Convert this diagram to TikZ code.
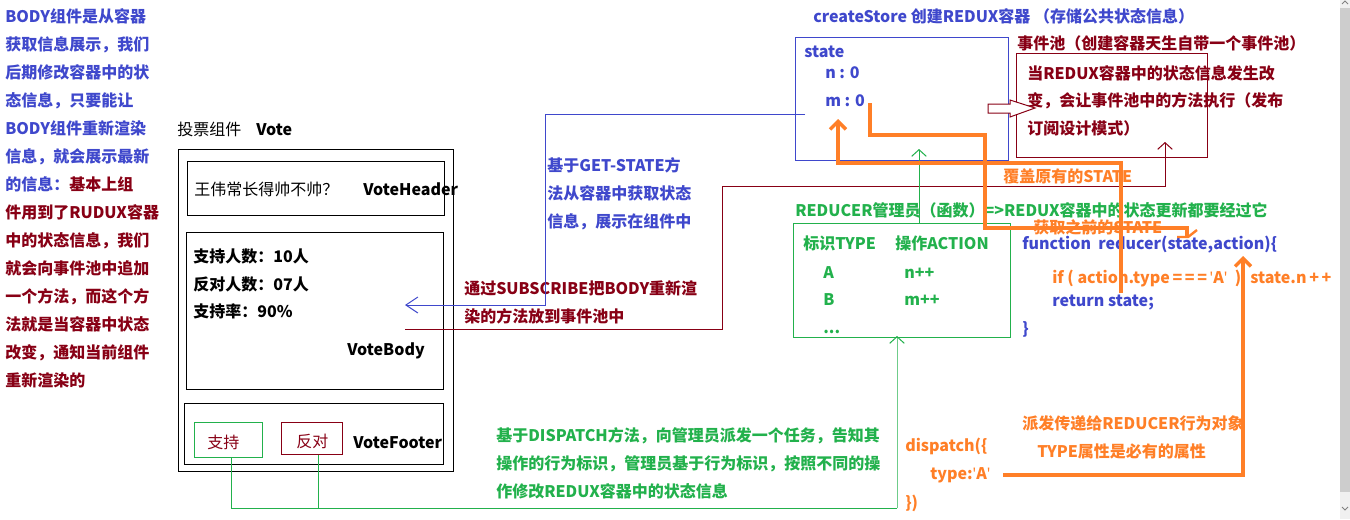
\documentclass[tikz,border=0pt]{standalone}
\usepackage{fontspec}
\setmainfont{Noto Sans CJK SC}
\newfontfamily\latf{Noto Sans}
\usetikzlibrary{arrows.meta,fit}
\definecolor{rblue}{RGB}{63,72,204}
\definecolor{rred}{RGB}{136,0,21}
\definecolor{rgreen}{RGB}{34,177,76}
\definecolor{rorange}{RGB}{255,127,39}
\definecolor{sbar}{RGB}{205,205,205}
\definecolor{sbarlt}{RGB}{240,240,240}
\newcommand\sq{{\latf\char"27\relax}}
\tikzset{
  t/.style={anchor=base west, inner sep=0pt, font=\fontsize{12}{14}\selectfont\bfseries},
  tn/.style={anchor=base west, inner sep=0pt, font=\fontsize{12}{14}\selectfont},
  bx/.style={draw, line width=0.75pt, inner sep=0pt},
  ln/.style={line width=0.75pt},
  barb/.style={-{Straight Barb[length=5pt,width=11pt]}},
  lbarb/.style={-{Straight Barb[length=9pt,width=12pt]}},
  oln/.style={draw=rorange, line width=2.6pt},
  obarb/.style={-{Straight Barb[length=6pt,width=12pt]}},
}
\begin{document}
\begin{tikzpicture}[x=0.75pt,y=-0.75pt]
\fill[white] (0,0) rectangle (1350,519);
\useasboundingbox (0,0) rectangle (1350,519);
% scrollbar
\fill[sbarlt] (1340,0) rectangle (1350,519);
\fill[sbar] (1340,8) rectangle (1350,492);
\draw[gray,line width=0.6pt] (1342,507) -- (1345,510) -- (1348,507);
\draw[gray,line width=0.6pt] (1342,4) -- (1345,1) -- (1348,4);

% left explanation
\node[t,text=rblue] (l1) at (5,22) {BODY组件是从容器};
\node[t,text=rblue] (l2) at (5,50) {获取信息展示，我们};
\node[t,text=rblue] (l3) at (5,78) {后期修改容器中的状};
\node[t,text=rblue] (l4) at (5,106) {态信息，只要能让};
\node[t,text=rblue] (l5) at (5,134) {BODY组件重新渲染};
\node[t,text=rblue] (l6) at (5,162) {信息，就会展示最新};
\node[t] (l7) at (5,190) {\textcolor{rblue}{的信息：}\textcolor{rred}{基本上组}};
\node[t,text=rred] (l8) at (5,218) {件用到了RUDUX容器};
\node[t,text=rred] (l9) at (5,246) {中的状态信息，我们};
\node[t,text=rred] (l10) at (5,274) {就会向事件池中追加};
\node[t,text=rred] (l11) at (5,302) {一个方法，而这个方};
\node[t,text=rred] (l12) at (5,330) {法就是当容器中状态};
\node[t,text=rred] (l13) at (5,358) {改变，通知当前组件};
\node[t,text=rred] (l14) at (5,386) {重新渲染的};

% vote component
\node[tn] (vt1) at (177,135) {投票组件};
\node[t] (vt2) at (256,135) {Vote};
\node[bx, fit={(178,149)(453,471)}] (vote) {};
\node[bx, fit={(187,161)(444,215)}] (hdr) {};
\node[tn] (q) at (194,195) {王伟常长得帅不帅？};
\node[t] (hn) at (363,195) {VoteHeader};
\node[bx, fit={(186,232)(443,389)}] (body) {};
\node[t] (b1) at (193,262) {支持人数：10人};
\node[t] (b2) at (193,290) {反对人数：07人};
\node[t] (b3) at (193,317) {支持率：90\%};
\node[t] (bn) at (347,355) {VoteBody};
\node[bx, fit={(184,403)(443,464)}] (foot) {};
\node[bx, draw=rgreen, fit={(194,422)(262,457)}] (sup) {};
\node[tn,text=rred] (supt) at (207,448) {支持};
\node[bx, draw=rred, fit={(281,422)(342,454)}] (opp) {};
\node[tn,text=rred] (oppt) at (296,447) {反对};
\node[t] (fn) at (353,448) {VoteFooter};

% store
\node[t,text=rblue] (title) at (813,22) {createStore 创建REDUX容器 （存储公共状态信息）};
\node[bx, draw=rblue, fit={(795,37)(1008,160)}] (store) {};
\node[t,text=rblue] (st) at (804,57) {state};
\node[t,text=rblue] (sn) at (825,78) {n : 0};
\node[t,text=rblue] (sm) at (825,106) {m : 0};

% event pool
\node[t,text=rred] (ept) at (1017,49) {事件池（创建容器天生自带一个事件池）};
\node[bx, draw=rred, fit={(1016,53)(1207,157)}] (pool) {};
\node[t,text=rred] (e1) at (1027,79) {当REDUX容器中的状态信息发生改};
\node[t,text=rred] (e2) at (1027,106) {变，会让事件池中的方法执行（发布};
\node[t,text=rred] (e3) at (1027,134) {订阅设计模式）};
\draw[rred, line width=0.75pt, fill=white] (988,104) -- (1010,104) -- (1010,100) -- (1035,108) -- (1010,117) -- (1010,113) -- (988,113) -- cycle;

% texts middle
\node[t,text=rblue] (g1) at (547,171) {基于GET-STATE方};
\node[t,text=rblue] (g2) at (547,199) {法从容器中获取状态};
\node[t,text=rblue] (g3) at (547,227) {信息，展示在组件中};
\node[t,text=rred] (s1) at (464,294) {通过SUBSCRIBE把BODY重新渲};
\node[t,text=rred] (s2) at (464,322) {染的方法放到事件池中};

% reducer
\node[t,text=rorange] (cov) at (1003,182) {覆盖原有的STATE};
\node[t,text=rgreen] (rt) at (795,216) {REDUCER管理员（函数）=>REDUX容器中的状态更新都要经过它};
\node[t,text=rorange] (prev) at (1033,233) {获取之前的STATE};
\node[bx, draw=rgreen, fit={(793,223)(1010,337)}] (red) {};
\node[t,text=rgreen] (r1) at (803,249) {标识TYPE};
\node[t,text=rgreen] (r2) at (895,249) {操作ACTION};
\node[t,text=rgreen] (r3) at (823,278) {A};
\node[t,text=rgreen] (r4) at (904,278) {n++};
\node[t,text=rgreen] (r5) at (823,305) {B};
\node[t,text=rgreen] (r6) at (904,305) {m++};
\node[t,text=rgreen] (r7) at (823,333) {...};
\node[t,text=rblue] (f1) at (1022,249) {function\ \ reducer(state,action)\{};
\node[t,text=rorange] (f2) at (1052,283) {if ( action.type\,=\,=\,=\,\sq A\sq\ \ )};
\node[t,text=rorange] (f2b) at (1250,283) {state.n\,+\,+};
\node[t,text=rblue] (f3) at (1052,306) {return state;};
\node[t,text=rblue] (f4) at (1022,334) {\}};

% dispatch
\node[t,text=rgreen] (d1) at (496,441) {基于DISPATCH方法，向管理员派发一个任务，告知其};
\node[t,text=rgreen] (d2) at (496,469) {操作的行为标识，管理员基于行为标识，按照不同的操};
\node[t,text=rgreen] (d3) at (496,497) {作修改REDUX容器中的状态信息};
\node[t,text=rorange] (dp1) at (905,451) {dispatch(\{};
\node[t,text=rorange] (dp2) at (930,479) {type:\sq A\sq};
\node[t,text=rorange] (dp3) at (905,508) {\})};
\node[t,text=rorange] (o1) at (1022,429) {派发传递给REDUCER行为对象};
\node[t,text=rorange] (o2) at (1037,457) {TYPE属性是必有的属性};

% connectors
\coordinate (bl) at (805,114);
\coordinate (gs) at (231,508);
\coordinate (go) at (318,508);
\coordinate (gr) at (897,508);
\draw[ln, rblue, lbarb] (bl) -- (545,114) -- (545,305) -- (405,305);
\draw[ln, rred, barb] (405,329) -- (722,329) -- (722,186) -- (1165,186) -- (pool.south -| 1165,0) -- (1165,142);
\draw[ln, rgreen, barb] (red.north -| 919,0) -- (919,149);
\draw[ln, rgreen] (sup.south -| gs) -- (gs) -- (gr);
\draw[ln, rgreen] (opp.south -| go) -- (go);
\draw[ln, rgreen, barb] (gr) -- (red.south -| gr) -- (897,336);
% orange
\draw[oln, line join=miter] (870,103) -- (870,135) -- (985,135) -- (985,228) -- (1187,228) -- (1187,236);
\draw[rorange, line width=1.8pt] (1177,237) -- (1188,237) -- (1197,230);
\draw[oln, obarb] (1121,293) -- (1121,163) -- (838,163) -- (838,119);
\draw[oln, obarb] (1003,475) -- (1243,475) -- (1243,256);
\end{tikzpicture}
\end{document}
